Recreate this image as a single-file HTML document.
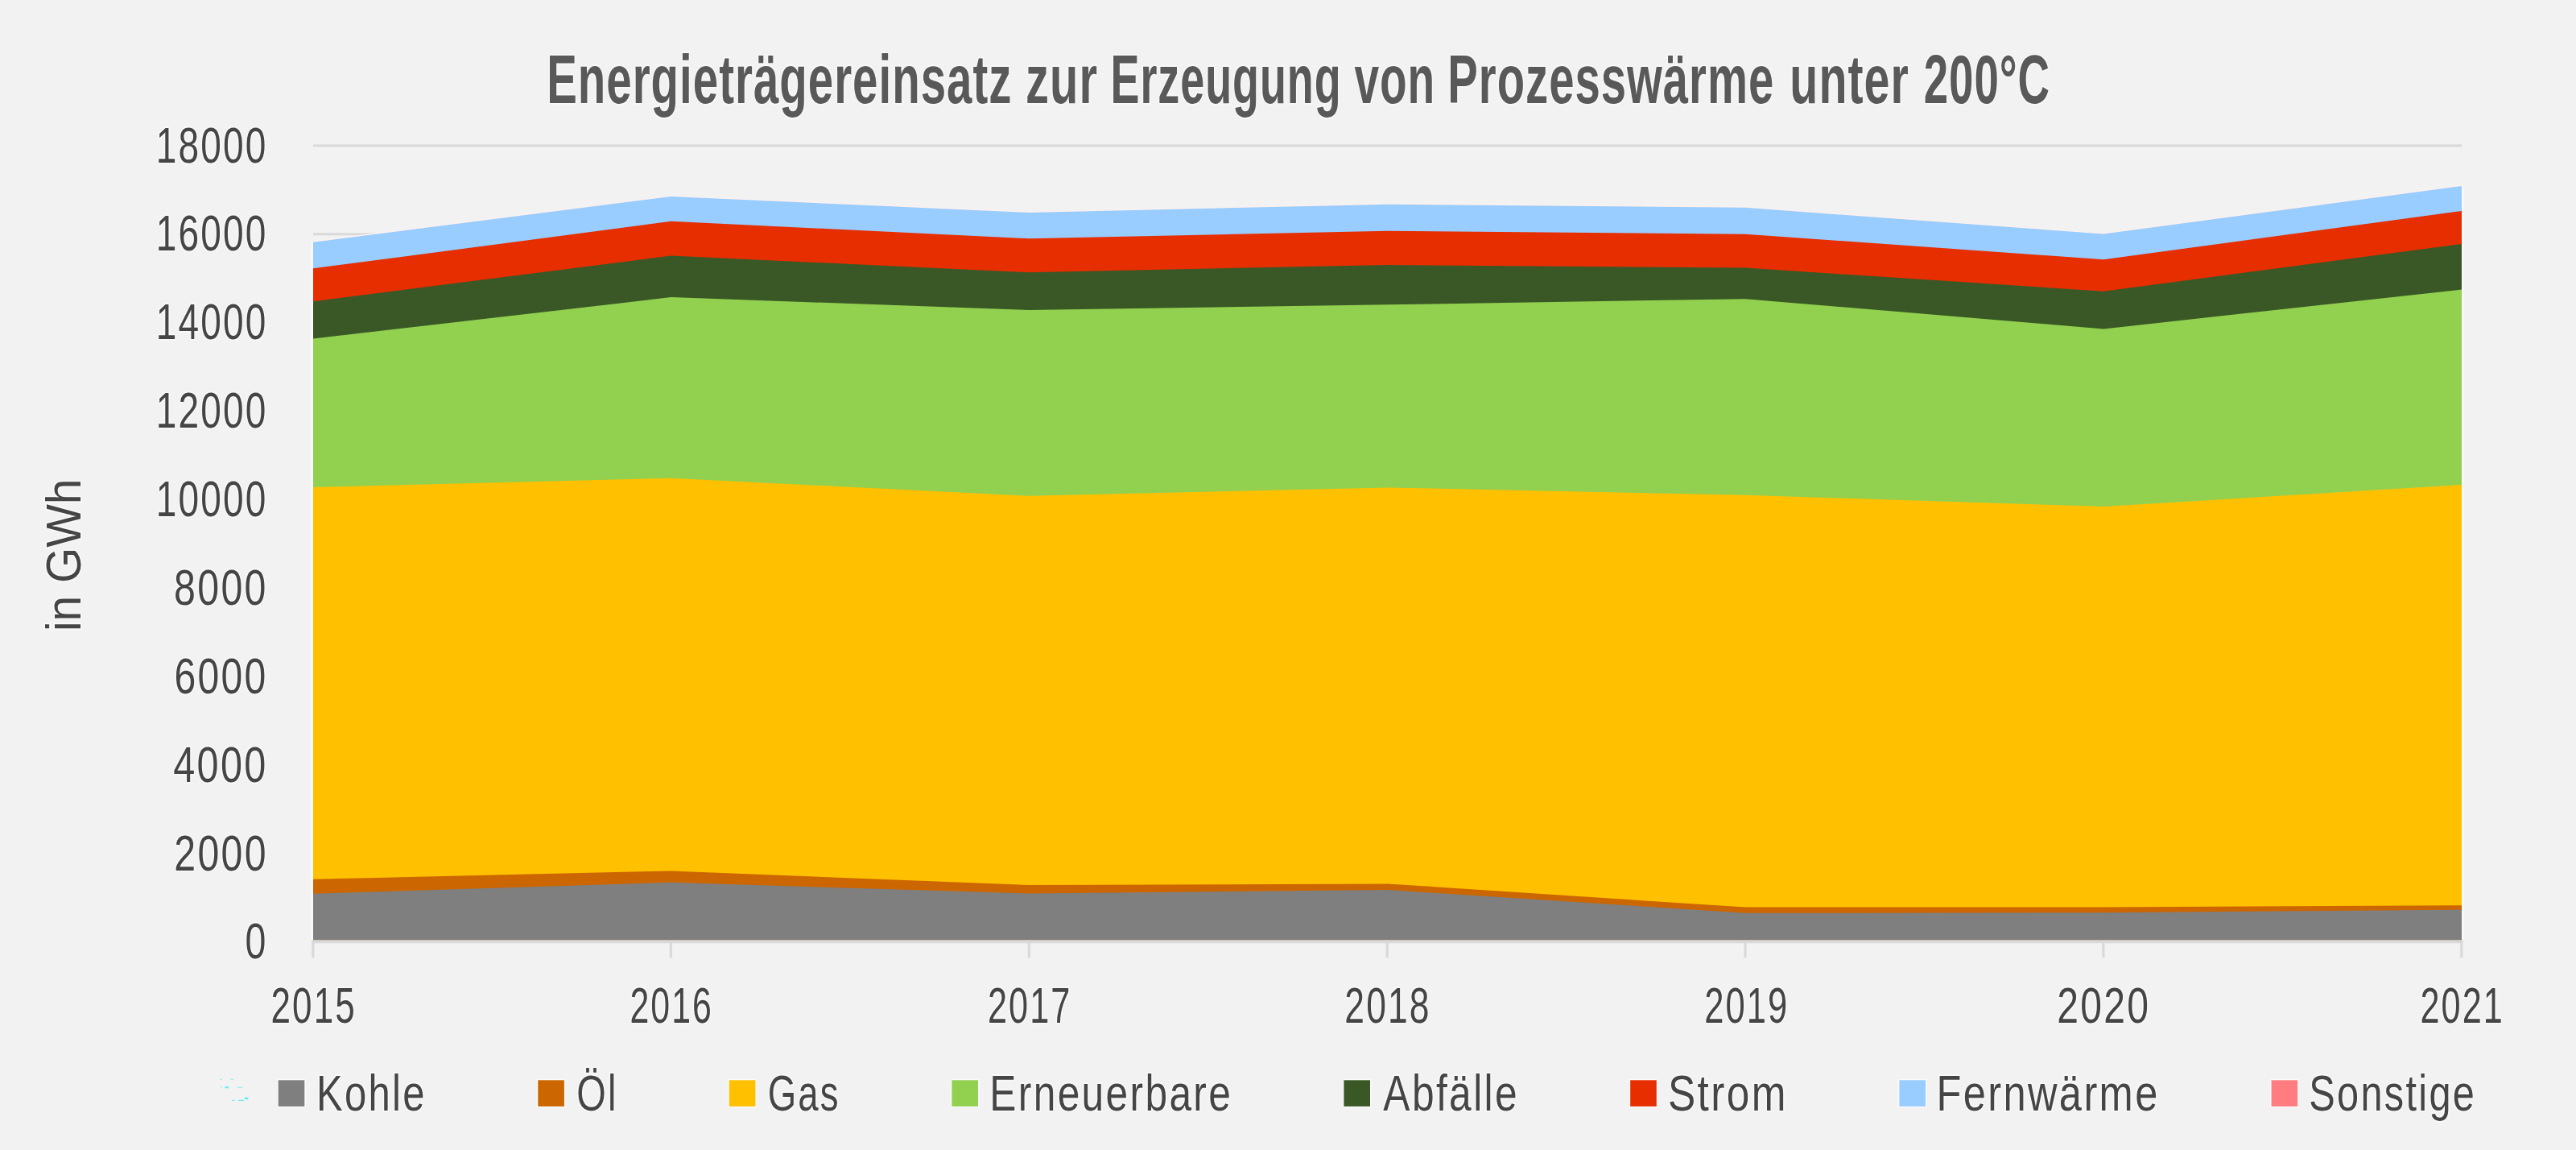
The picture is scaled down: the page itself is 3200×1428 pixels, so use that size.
<!DOCTYPE html>
<html lang="de"><head><meta charset="utf-8"><title>Energieträgereinsatz zur Erzeugung von Prozesswärme unter 200°C</title>
<style>html,body{margin:0;padding:0;background:#f2f2f2;}body{width:3200px;height:1428px;}svg{display:block;}text{font-family:"Liberation Sans",sans-serif;}</style></head><body>
<svg width="3200" height="1428" viewBox="0 0 3200 1428">
<rect width="3200" height="1428" fill="#f2f2f2"/>
<rect x="389" y="1058.3" width="2669" height="3" fill="#d9d9d9"/>
<rect x="389" y="948.5" width="2669" height="3" fill="#d9d9d9"/>
<rect x="389" y="838.6" width="2669" height="3" fill="#d9d9d9"/>
<rect x="389" y="728.7" width="2669" height="3" fill="#d9d9d9"/>
<rect x="389" y="618.9" width="2669" height="3" fill="#d9d9d9"/>
<rect x="389" y="509.0" width="2669" height="3" fill="#d9d9d9"/>
<rect x="389" y="399.1" width="2669" height="3" fill="#d9d9d9"/>
<rect x="389" y="289.3" width="2669" height="3" fill="#d9d9d9"/>
<rect x="389" y="179.4" width="2669" height="3" fill="#d9d9d9"/>
<polygon fill="#f9f8fb" points="386.4,1167.2 386.4,301 389,300.6 389,1167.2"/>
<polygon fill="#f8f8fb" points="3058,1167.2 3058,231 3060.6,231.4 3060.6,1167.2"/>
<polygon fill="#fbf1ee" points="389.0,1167.2 389.0,299.3 833.6,242.4 1278.5,262.5 1723.4,252.3 2168.2,256.3 2613.1,289.1 3058.0,229.5 3058.0,1167.2"/>
<polygon fill="#99ccff" points="389.0,1167.2 389.0,300.8 833.6,243.9 1278.5,264.0 1723.4,253.8 2168.2,257.8 2613.1,290.6 3058.0,231.0 3058.0,1167.2"/>
<polygon fill="#e62e00" points="389.0,1167.2 389.0,333.3 833.6,274.8 1278.5,296.2 1723.4,286.7 2168.2,290.8 2613.1,322.2 3058.0,261.9 3058.0,1167.2"/>
<polygon fill="#3a5826" points="389.0,1167.2 389.0,374.3 833.6,317.6 1278.5,338.2 1723.4,329.0 2168.2,332.5 2613.1,361.8 3058.0,302.9 3058.0,1167.2"/>
<polygon fill="#92d050" points="389.0,1167.2 389.0,420.5 833.6,369.1 1278.5,385.0 1723.4,378.3 2168.2,371.2 2613.1,408.4 3058.0,359.6 3058.0,1167.2"/>
<polygon fill="#ffc000" points="389.0,1167.2 389.0,605.0 833.6,593.8 1278.5,615.8 1723.4,605.4 2168.2,614.8 2613.1,629.1 3058.0,601.9 3058.0,1167.2"/>
<polygon fill="#cc6600" points="389.0,1167.2 389.0,1091.8 833.6,1081.4 1278.5,1099.1 1723.4,1097.4 2168.2,1126.6 2613.1,1126.5 3058.0,1124.2 3058.0,1167.2"/>
<polygon fill="#7f7f7f" points="389.0,1167.2 389.0,1109.8 833.6,1095.8 1278.5,1109.5 1723.4,1105.0 2168.2,1133.8 2613.1,1133.2 3058.0,1129.7 3058.0,1167.2"/>
<rect x="387.2" y="1167.3" width="2672.4" height="4" fill="#d9d9d9"/>
<rect x="387.2" y="1168" width="3.2" height="21.2" fill="#d9d9d9"/>
<rect x="831.8" y="1168" width="3.2" height="21.2" fill="#d9d9d9"/>
<rect x="1276.7" y="1168" width="3.2" height="21.2" fill="#d9d9d9"/>
<rect x="1721.6" y="1168" width="3.2" height="21.2" fill="#d9d9d9"/>
<rect x="2166.4" y="1168" width="3.2" height="21.2" fill="#d9d9d9"/>
<rect x="2611.3" y="1168" width="3.2" height="21.2" fill="#d9d9d9"/>
<rect x="3056.2" y="1168" width="3.2" height="21.2" fill="#d9d9d9"/>
<text y="128.00" font-size="85" fill="#595959" font-weight="bold" letter-spacing="1.5" stroke="#f9f9f9" stroke-width="3.4" paint-order="stroke" stroke-linejoin="round"><tspan x="679.15" textLength="578.31" lengthAdjust="spacingAndGlyphs">Energieträgereinsatz</tspan> <tspan x="1274.08" textLength="90.02" lengthAdjust="spacingAndGlyphs">zur</tspan> <tspan x="1379.47" textLength="287.11" lengthAdjust="spacingAndGlyphs">Erzeugung</tspan> <tspan x="1682.42" textLength="100.78" lengthAdjust="spacingAndGlyphs">von</tspan> <tspan x="1798.29" textLength="405.94" lengthAdjust="spacingAndGlyphs">Prozesswärme</tspan> <tspan x="2223.37" textLength="148.37" lengthAdjust="spacingAndGlyphs">unter</tspan> <tspan x="2389.64" textLength="157.46" lengthAdjust="spacingAndGlyphs">200°C</tspan></text>
<text x="304.38" y="1190.00" font-size="63" fill="#454545" stroke="#f9f9f9" stroke-width="3.4" paint-order="stroke" stroke-linejoin="round" letter-spacing="3" textLength="28.09" lengthAdjust="spacingAndGlyphs">0</text>
<text x="216.34" y="1081.00" font-size="63" fill="#454545" stroke="#f9f9f9" stroke-width="3.4" paint-order="stroke" stroke-linejoin="round" letter-spacing="3" textLength="116.44" lengthAdjust="spacingAndGlyphs">2000</text>
<text x="215.24" y="971.00" font-size="63" fill="#454545" stroke="#f9f9f9" stroke-width="3.4" paint-order="stroke" stroke-linejoin="round" letter-spacing="3" textLength="117.44" lengthAdjust="spacingAndGlyphs">4000</text>
<text x="216.44" y="861.00" font-size="63" fill="#454545" stroke="#f9f9f9" stroke-width="3.4" paint-order="stroke" stroke-linejoin="round" letter-spacing="3" textLength="116.24" lengthAdjust="spacingAndGlyphs">6000</text>
<text x="216.07" y="751.00" font-size="63" fill="#454545" stroke="#f9f9f9" stroke-width="3.4" paint-order="stroke" stroke-linejoin="round" letter-spacing="3" textLength="116.70" lengthAdjust="spacingAndGlyphs">8000</text>
<text x="193.70" y="641.00" font-size="63" fill="#454545" stroke="#f9f9f9" stroke-width="3.4" paint-order="stroke" stroke-linejoin="round" letter-spacing="3" textLength="138.89" lengthAdjust="spacingAndGlyphs">10000</text>
<text x="193.70" y="531.00" font-size="63" fill="#454545" stroke="#f9f9f9" stroke-width="3.4" paint-order="stroke" stroke-linejoin="round" letter-spacing="3" textLength="138.89" lengthAdjust="spacingAndGlyphs">12000</text>
<text x="193.70" y="421.00" font-size="63" fill="#454545" stroke="#f9f9f9" stroke-width="3.4" paint-order="stroke" stroke-linejoin="round" letter-spacing="3" textLength="138.89" lengthAdjust="spacingAndGlyphs">14000</text>
<text x="193.70" y="311.00" font-size="63" fill="#454545" stroke="#f9f9f9" stroke-width="3.4" paint-order="stroke" stroke-linejoin="round" letter-spacing="3" textLength="138.89" lengthAdjust="spacingAndGlyphs">16000</text>
<text x="193.70" y="202.00" font-size="63" fill="#454545" stroke="#f9f9f9" stroke-width="3.4" paint-order="stroke" stroke-linejoin="round" letter-spacing="3" textLength="138.89" lengthAdjust="spacingAndGlyphs">18000</text>
<text x="336.56" y="1270.00" font-size="63" fill="#454545" stroke="#f9f9f9" stroke-width="3.4" paint-order="stroke" stroke-linejoin="round" letter-spacing="3" textLength="106.20" lengthAdjust="spacingAndGlyphs">2015</text>
<text x="782.43" y="1270.00" font-size="63" fill="#454545" stroke="#f9f9f9" stroke-width="3.4" paint-order="stroke" stroke-linejoin="round" letter-spacing="3" textLength="103.42" lengthAdjust="spacingAndGlyphs">2016</text>
<text x="1226.94" y="1270.00" font-size="63" fill="#454545" stroke="#f9f9f9" stroke-width="3.4" paint-order="stroke" stroke-linejoin="round" letter-spacing="3" textLength="104.51" lengthAdjust="spacingAndGlyphs">2017</text>
<text x="1670.35" y="1270.00" font-size="63" fill="#454545" stroke="#f9f9f9" stroke-width="3.4" paint-order="stroke" stroke-linejoin="round" letter-spacing="3" textLength="107.30" lengthAdjust="spacingAndGlyphs">2018</text>
<text x="2117.13" y="1270.00" font-size="63" fill="#454545" stroke="#f9f9f9" stroke-width="3.4" paint-order="stroke" stroke-linejoin="round" letter-spacing="3" textLength="105.24" lengthAdjust="spacingAndGlyphs">2019</text>
<text x="2555.24" y="1270.00" font-size="63" fill="#454545" stroke="#f9f9f9" stroke-width="3.4" paint-order="stroke" stroke-linejoin="round" letter-spacing="3" textLength="116.15" lengthAdjust="spacingAndGlyphs">2020</text>
<text x="3006.38" y="1270.00" font-size="63" fill="#454545" stroke="#f9f9f9" stroke-width="3.4" paint-order="stroke" stroke-linejoin="round" letter-spacing="3" textLength="104.53" lengthAdjust="spacingAndGlyphs">2021</text>
<text x="392.92" y="1379.00" font-size="63" fill="#454545" stroke="#f9f9f9" stroke-width="3.4" paint-order="stroke" stroke-linejoin="round" letter-spacing="3" textLength="136.93" lengthAdjust="spacingAndGlyphs">Kohle</text>
<text x="716.16" y="1379.00" font-size="63" fill="#454545" stroke="#f9f9f9" stroke-width="3.4" paint-order="stroke" stroke-linejoin="round" letter-spacing="3" textLength="51.43" lengthAdjust="spacingAndGlyphs">Öl</text>
<text x="953.65" y="1379.00" font-size="63" fill="#454545" stroke="#f9f9f9" stroke-width="3.4" paint-order="stroke" stroke-linejoin="round" letter-spacing="3" textLength="90.14" lengthAdjust="spacingAndGlyphs">Gas</text>
<text x="1229.33" y="1379.00" font-size="63" fill="#454545" stroke="#f9f9f9" stroke-width="3.4" paint-order="stroke" stroke-linejoin="round" letter-spacing="3" textLength="301.87" lengthAdjust="spacingAndGlyphs">Erneuerbare</text>
<text x="1718.34" y="1379.00" font-size="63" fill="#454545" stroke="#f9f9f9" stroke-width="3.4" paint-order="stroke" stroke-linejoin="round" letter-spacing="3" textLength="168.68" lengthAdjust="spacingAndGlyphs">Abfälle</text>
<text x="2071.93" y="1379.00" font-size="63" fill="#454545" stroke="#f9f9f9" stroke-width="3.4" paint-order="stroke" stroke-linejoin="round" letter-spacing="3" textLength="149.04" lengthAdjust="spacingAndGlyphs">Strom</text>
<text x="2405.38" y="1379.00" font-size="63" fill="#454545" stroke="#f9f9f9" stroke-width="3.4" paint-order="stroke" stroke-linejoin="round" letter-spacing="3" textLength="277.29" lengthAdjust="spacingAndGlyphs">Fernwärme</text>
<text x="2868.25" y="1379.00" font-size="63" fill="#454545" stroke="#f9f9f9" stroke-width="3.4" paint-order="stroke" stroke-linejoin="round" letter-spacing="3" textLength="207.95" lengthAdjust="spacingAndGlyphs">Sonstige</text>
<text x="100.40" y="784.00" font-size="62" fill="#454545" stroke="#f9f9f9" stroke-width="3.4" paint-order="stroke" stroke-linejoin="round" textLength="189.40" lengthAdjust="spacingAndGlyphs" transform="rotate(-90 100.40 784.00)">in GWh</text>
<rect x="344.1" y="1339.7" width="35.8" height="35.8" fill="#f9f9f9"/>
<rect x="345.7" y="1341.3" width="32.6" height="32.6" fill="#7f7f7f"/>
<rect x="666.7" y="1339.7" width="35.8" height="35.8" fill="#f9f9f9"/>
<rect x="668.3" y="1341.3" width="32.6" height="32.6" fill="#cc6600"/>
<rect x="904.2" y="1339.7" width="35.8" height="35.8" fill="#f9f9f9"/>
<rect x="905.8" y="1341.3" width="32.6" height="32.6" fill="#ffc000"/>
<rect x="1180.8" y="1339.7" width="35.8" height="35.8" fill="#f9f9f9"/>
<rect x="1182.4" y="1341.3" width="32.6" height="32.6" fill="#92d050"/>
<rect x="1667.8" y="1339.7" width="35.8" height="35.8" fill="#f9f9f9"/>
<rect x="1669.4" y="1341.3" width="32.6" height="32.6" fill="#3a5826"/>
<rect x="2023.6" y="1339.7" width="35.8" height="35.8" fill="#f9f9f9"/>
<rect x="2025.2" y="1341.3" width="32.6" height="32.6" fill="#e62e00"/>
<rect x="2357.8" y="1339.7" width="35.8" height="35.8" fill="#f9f9f9"/>
<rect x="2359.4" y="1341.3" width="32.6" height="32.6" fill="#99ccff"/>
<rect x="2820.0" y="1339.7" width="35.8" height="35.8" fill="#f9f9f9"/>
<rect x="2821.6" y="1341.3" width="32.6" height="32.6" fill="#ff7c80"/>
<rect x="279.6" y="1349.1" width="4.3" height="2.2" fill="#3fe9ec" opacity="0.8"/>
<rect x="303.9" y="1362.6" width="4.4" height="2.6" fill="#3fe9ec" opacity="0.8"/>
<rect x="296" y="1365.8" width="7" height="1.3" fill="#3fe9ec" opacity="0.7"/>
<rect x="288.3" y="1365.8" width="3.4" height="1.2" fill="#3fe9ec" opacity="0.7"/>
<rect x="294.8" y="1349.6" width="6.5" height="1.3" fill="#3fe9ec" opacity="0.5"/>
<rect x="273" y="1339.8" width="3" height="1.1" fill="#3fe9ec" opacity="0.5"/>
<rect x="286.5" y="1339.6" width="3.5" height="1.3" fill="#3fe9ec" opacity="0.5"/>
<rect x="274.8" y="1348.7" width="0.9" height="3" fill="#3fe9ec" opacity="0.5"/>
</svg></body></html>
